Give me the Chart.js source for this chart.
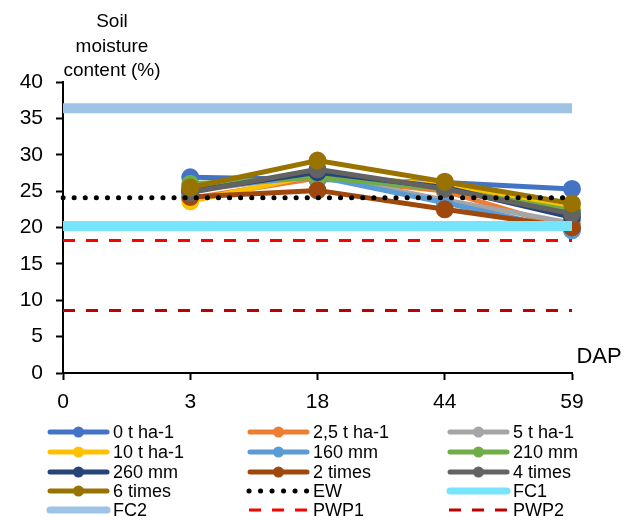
<!DOCTYPE html>
<html>
<head>
<meta charset="utf-8">
<script src="https://cdn.jsdelivr.net/npm/chart.js@4.4.1/dist/chart.umd.min.js"></script>
<style>
  html, body { margin: 0; padding: 0; background: #fff; }
  #wrap { width: 624px; height: 520px; }
</style>
</head>
<body>
<div id="wrap"><canvas id="chart" width="624" height="520"></canvas></div>
<script>
// days after planting (category axis)
const dap = ['0', '3', '18', '44', '59'];

// soil moisture content (%) per treatment
const t0 = [null, 26.9, 26.6, 26.2, 25.3];
const t25 = [null, 24.0, 26.8, 25.0, 19.8];
const t5 = [null, 25.0, 27.2, 23.8, 20.6];
const t10 = [null, 23.6, 27.3, 25.8, 22.6];
const mm160 = [null, 25.4, 27.0, 23.4, 19.6];
const mm210 = [null, 26.0, 26.9, 25.3, 22.3];
const mm260 = [null, 25.0, 27.6, 25.5, 21.4];
const times2 = [null, 24.2, 25.1, 22.5, 20.0];
const times4 = [null, 24.8, 28.0, 25.3, 21.9];
const times6 = [null, 25.5, 29.2, 26.3, 23.3];

// reference levels
const ew = [24.1, 24.1, 24.1, 24.1, 24.1];
const fc1 = [20.2, 20.2, 20.2, 20.2, 20.2];
const fc2 = [36.4, 36.4, 36.4, 36.4, 36.4];
const pwp1 = [18.2, 18.2, 18.2, 18.2, 18.2];
const pwp2 = [8.6, 8.6, 8.6, 8.6, 8.6];

const yTicks = [0, 5, 10, 15, 20, 25, 30, 35, 40];

const FONT = "'Liberation Sans', Arial, sans-serif";

function series(label, data, color) {
    return {
        label: label,
        data: data,
        borderColor: color,
        backgroundColor: color,
        pointBackgroundColor: color,
        pointBorderColor: color,
        borderWidth: 5,
        pointRadius: 6.5,
        pointHoverRadius: 6.5,
        tension: 0,
        spanGaps: false,
        kind: 'series'
    };
}

function refLine(label, data, color, width, dash, cap, kind) {
    return {
        label: label,
        data: data,
        borderColor: color,
        backgroundColor: color,
        borderWidth: width,
        borderDash: dash,
        borderCapStyle: cap,
        pointRadius: 0,
        pointHoverRadius: 0,
        tension: 0,
        kind: kind
    };
}

const datasets = [
    series('0 t ha-1', t0, '#4472C4'),
    series('2,5 t ha-1', t25, '#ED7D31'),
    series('5 t ha-1', t5, '#A5A5A5'),
    series('10 t ha-1', t10, '#FFC000'),
    series('160 mm', mm160, '#5B9BD5'),
    series('210 mm', mm210, '#70AD47'),
    series('260 mm', mm260, '#264478'),
    series('2 times', times2, '#9E480E'),
    series('4 times', times4, '#636363'),
    series('6 times', times6, '#997300'),
    refLine('EW', ew, '#000000', 5, [0.1, 11], 'round', 'dot'),
    refLine('FC1', fc1, '#76E4FA', 10, [], 'butt', 'band'),
    refLine('FC2', fc2, '#9DC3E6', 10, [], 'butt', 'band'),
    refLine('PWP1', pwp1, '#FF0000', 3, [12, 11], 'butt', 'dash'),
    refLine('PWP2', pwp2, '#C00000', 3, [12, 11], 'butt', 'dash')
];
// later datasets drawn on top, like the original
datasets.forEach((d, i) => { d.order = datasets.length - i; });

// legend grid + axis captions
const decor = {
    id: 'decor',
    afterDraw(chart) {
        const ctx = chart.ctx;
        ctx.save();
        ctx.fillStyle = '#000';
        ctx.textBaseline = 'middle';

        // y axis caption
        ctx.textAlign = 'center';
        ctx.font = '19px ' + FONT;
        ctx.fillText('Soil', 112, 22);
        ctx.fillText('moisture', 112, 47);
        ctx.fillText('content (%)', 112, 71);

        // x axis caption
        ctx.font = '22px ' + FONT;
        ctx.fillText('DAP', 599, 357);

        // legend
        const colX = [47, 247, 447];
        const rowY = [432, 452, 472, 491, 510];
        const sample = 63;
        ctx.font = '18px ' + FONT;
        ctx.textAlign = 'left';
        chart.data.datasets.forEach((d, i) => {
            const x = colX[i % 3];
            const y = rowY[Math.floor(i / 3)];
            ctx.strokeStyle = d.borderColor;
            ctx.lineWidth = d.kind === 'band' ? 7 : d.borderWidth;
            ctx.setLineDash(d.borderDash || []);
            ctx.lineCap = d.borderCapStyle || 'butt';
            if (d.kind === 'series') {
                ctx.lineCap = 'round';
                ctx.lineWidth = 5;
            }
            if (d.kind === 'band') ctx.lineCap = 'round';
            let x0 = x + 3, x1 = x + sample - 3;
            if (d.kind === 'dot') { ctx.setLineDash([0.1, 11.4]); x0 = x + 2; x1 = x + sample; }
            if (d.kind === 'dash') { ctx.setLineDash([12, 11]); x0 = x + 2; x1 = x + sample; }
            ctx.beginPath();
            ctx.moveTo(x0, y);
            ctx.lineTo(x1, y);
            ctx.stroke();
            ctx.setLineDash([]);
            if (d.kind === 'series') {
                ctx.fillStyle = d.borderColor;
                ctx.beginPath();
                ctx.arc(x + sample / 2, y, 5.5, 0, Math.PI * 2);
                ctx.fill();
            }
            ctx.fillStyle = '#000';
            ctx.fillText(d.label, x + sample + 3, y + 1);
        });
        ctx.restore();
    }
};

new Chart(document.getElementById('chart'), {
    type: 'line',
    data: { labels: dap, datasets: datasets },
    options: {
        responsive: false,
        animation: false,
        events: [],
        layout: { padding: { top: 82, right: 52, bottom: 0, left: 0 } },
        plugins: {
            legend: { display: false },
            tooltip: { enabled: false },
            title: { display: false }
        },
        scales: {
            x: {
                type: 'category',
                offset: false,
                border: { display: true, color: '#000', width: 2 },
                grid: {
                    display: true,
                    drawOnChartArea: false,
                    drawTicks: true,
                    tickLength: 7,
                    tickWidth: 2,
                    tickColor: '#000'
                },
                ticks: {
                    color: '#000',
                    font: { family: FONT, size: 21 },
                    padding: 10,
                    maxRotation: 0,
                    autoSkip: false
                },
                afterFit(scale) { scale.height = 147; }
            },
            y: {
                min: 0,
                max: 40,
                afterBuildTicks(scale) {
                    scale.ticks = yTicks.map(v => ({ value: v }));
                },
                border: { display: true, color: '#000', width: 2 },
                grid: {
                    display: true,
                    drawOnChartArea: false,
                    drawTicks: true,
                    tickLength: 7,
                    tickWidth: 2,
                    tickColor: '#000'
                },
                ticks: {
                    color: '#000',
                    font: { family: FONT, size: 21 },
                    padding: 13
                },
                afterFit(scale) { scale.width = 63; }
            }
        }
    },
    plugins: [decor]
});
</script>
</body>
</html>
